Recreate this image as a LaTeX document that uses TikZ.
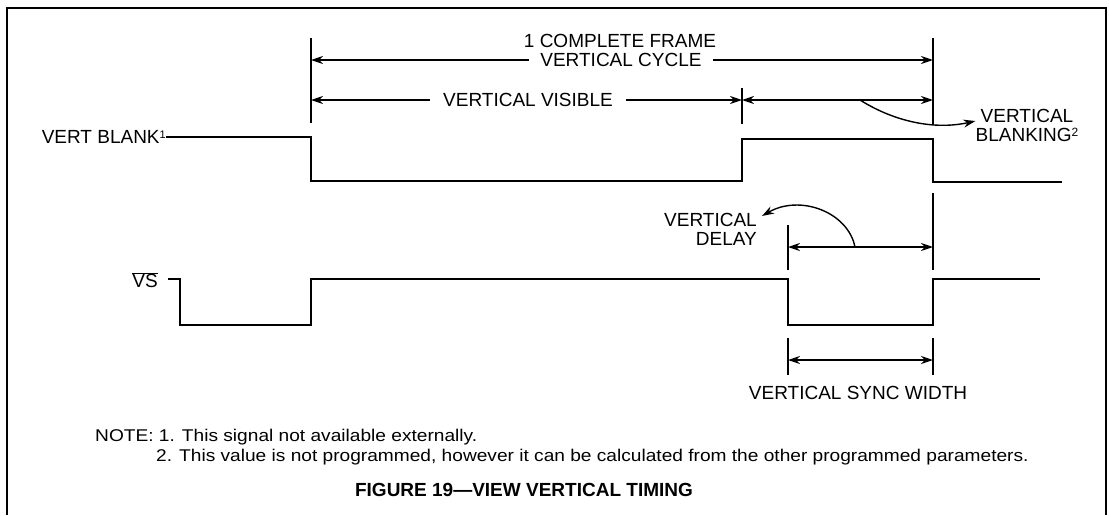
\documentclass[tikz,border=0pt]{standalone}
\usepackage{fontspec}
\setmainfont{Liberation Sans}
\usetikzlibrary{arrows.meta}
\tikzset{
  lbl/.style={font=\fontsize{19}{21}\selectfont, inner sep=0pt},
  note/.style={font=\fontsize{17}{19}\selectfont, inner sep=0pt, anchor=base west},
  sig/.style={line width=2.4pt, line join=miter},
  tick/.style={line width=1.3pt},
  arrd/.style={line width=1.4pt, {Stealth[length=12pt,width=8pt]}-{Stealth[length=12pt,width=8pt]}},
  arr/.style={line width=1.4pt, -{Stealth[length=12pt,width=8pt]}},
  frame/.style={line width=1.5pt}
}
\begin{document}
\begin{tikzpicture}[x=1pt,y=-1pt]
\useasboundingbox (0,0) rectangle (1109,515);
% border
\draw[frame] (7,515) -- (7,8) -- (1106,8) -- (1106,515);

% tick coordinates
\coordinate (t1a) at (311,38);  \coordinate (t1b) at (311,123);
\coordinate (t2a) at (742,88);  \coordinate (t2b) at (742,124);
\coordinate (t3a) at (933,38);  \coordinate (t3b) at (933,125);
\coordinate (t4a) at (933,193); \coordinate (t4b) at (933,270);
\coordinate (t5a) at (788,225); \coordinate (t5b) at (788,270);
\coordinate (t6a) at (788,338); \coordinate (t6b) at (788,375);
\coordinate (t7a) at (933,338); \coordinate (t7b) at (933,375);
\foreach \i in {1,...,7} \draw[tick] (t\i a) -- (t\i b);

% arrow end coordinates
\coordinate (cycL) at (311,60);  \coordinate (cycR) at (933,60);
\coordinate (visL) at (311,100); \coordinate (visR) at (742,100);
\coordinate (blkL) at (742,100); \coordinate (blkR) at (933,100);
\coordinate (dlyL) at (788,247); \coordinate (dlyR) at (933,247);
\coordinate (synL) at (788,360); \coordinate (synR) at (933,360);

% labels top
\node[lbl] (frame) at (620,41) {1 COMPLETE FRAME};
\node[lbl, inner xsep=11pt] (cyc) at (621,60) {VERTICAL CYCLE};
\node[lbl, inner xsep=13pt] (vis) at (528,100) {VERTICAL VISIBLE};
\draw[arr] (cyc.west) -- (cycL);
\draw[arr] (cyc.east) -- (cycR);
\draw[arr] (vis.west) -- (visL);
\draw[arr] (vis.east) -- (visR);
\draw[arrd] (blkL) -- (blkR);

% vertical blanking label + curved arrow
\node[lbl, align=center] (blank) at (1027,125) {VERTICAL\\[-2pt]BLANKING\raisebox{5pt}{\fontsize{12}{12}\selectfont 2}};
\coordinate (bc) at (860,100);
\draw[arr] (bc) .. controls (895,122) and (935,130) .. (blank.west |- 0,121);

% VERT BLANK signal
\node[lbl, anchor=east] (vb) at (166,137) {VERT BLANK\raisebox{5pt}{\fontsize{11}{11}\selectfont 1}};
\draw[sig] (vb.east) -- (311,137) -- (311,181) -- (742,181) -- (742,139) -- (933,139) -- (933,182) -- (1062,182);

% VS signal
\node[lbl, anchor=east] (vs) at (158,280) {$\overline{\hbox{VS}}$};
\draw[sig] (168,279) -- (180,279) -- (180,325) -- (311,325) -- (311,279) -- (788,279) -- (788,325) -- (933,325) -- (933,279) -- (1040,279);

% vertical delay
\draw[arrd] (dlyL) -- (dlyR);
\node[lbl, align=right, anchor=east] (dly) at (757,229) {VERTICAL\\[-2pt]DELAY};
\coordinate (dc) at (855,247);
\draw[arr] (dc) .. controls (848,212) and (800,194) .. (762,216);

% sync width
\draw[arrd] (synL) -- (synR);
\node[lbl] (syn) at (858,393) {VERTICAL SYNC WIDTH};

% notes
\node[note] (n1) at (95,441) {\scalebox{1.125}[1]{NOTE: 1. This signal not available externally.}};
\node[note] (n2) at (156,461) {\scalebox{1.125}[1]{2. This value is not programmed, however it can be calculated from the other programmed parameters.}};
\node[inner sep=0pt, font=\fontsize{19}{21}\selectfont\bfseries] (title) at (524,490) {FIGURE 19---VIEW VERTICAL TIMING};
\end{tikzpicture}
\end{document}
